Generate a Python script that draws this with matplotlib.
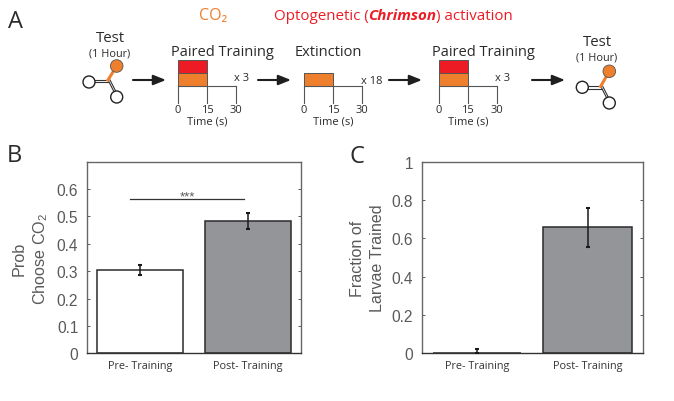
import matplotlib
matplotlib.use("Agg")
import matplotlib.pyplot as plt
from matplotlib.patches import Circle, Rectangle

plt.rcParams["mathtext.fontset"] = "custom"
plt.rcParams["mathtext.rm"] = "Liberation Sans"

# values
groups = ["Pre- Training", "Post- Training"]
prob_choose = [0.304, 0.483]
prob_err = [0.017, 0.030]
frac_trained = [0.0, 0.659]
frac_err_lo = [0.0, 0.105]
frac_err_hi = [0.02, 0.098]
prob_ticks = [0, 0.1, 0.2, 0.3, 0.4, 0.5, 0.6]
prob_ticklabels = ["0", "0.1", "0.2", "0.3", "0.4", "0.5", "0.6"]
frac_ticks = [0, 0.2, 0.4, 0.6, 0.8, 1]
frac_ticklabels = ["0", "0.2", "0.4", "0.6", "0.8", "1"]
bar_colors = ["white", "#939598"]
time_labels = ["0", "15", "30"]

W, H = 674, 402
ORANGE = "#ee7f2d"
RED = "#ed1c24"
DARK = "#2b2b2b"
GREY = "#58595b"
SCH_FONT = ["Open Sans", "DejaVu Sans"]
TICK_FONT = ["Liberation Sans", "DejaVu Sans"]

fig = plt.figure(figsize=(W / 100, H / 100), dpi=100)


def px_axes(x0, y0, x1, y1):
    return fig.add_axes([x0 / W, 1 - y1 / H, (x1 - x0) / W, (y1 - y0) / H])


def bar_panel(box, vals, lo, hi, ticks, ticklabels, ymax, ylabel, spacing):
    ax = px_axes(*box)
    ax.bar([1, 2], vals, width=0.8, color=bar_colors, edgecolor="#2a2a2a", lw=1.1, zorder=2)
    ax.errorbar([1, 2], vals, yerr=[lo, hi], fmt="none", ecolor="#1a1a1a", elinewidth=1.1,
                capsize=1.5, capthick=1.5, zorder=3, clip_on=False)
    ax.set_xlim(0.5, 2.5)
    ax.set_ylim(0, ymax)
    ax.set_xticks([1, 2])
    ax.set_xticklabels(groups, family=SCH_FONT, fontsize=7.8, color="#333333")
    ax.set_yticks(ticks)
    ax.set_yticklabels(ticklabels, family=TICK_FONT, fontsize=11.2, color=GREY)
    ax.tick_params(axis="x", length=0, pad=5)
    ax.tick_params(axis="y", length=2.5, width=0.7, direction="in", right=True, color=GREY, pad=6)
    for s in ax.spines.values():
        s.set_color("#666666")
        s.set_linewidth(1.0)
    ax.spines["bottom"].set_color("#333333")
    ax.set_ylabel(ylabel, family=TICK_FONT, fontsize=11.6, color=GREY, labelpad=5, linespacing=spacing)
    return ax


ax_b = bar_panel((86.7, 162.7, 301.3, 354.3), prob_choose, prob_err, prob_err,
                 prob_ticks, prob_ticklabels, 0.7, "Prob\nChoose CO$_2$", 1.3)
ax_b.plot([0.908, 1.97], [0.563, 0.563], color="#333333", lw=0.9, zorder=3)
ax_b.text(1.44, 0.572, "***", ha="center", va="center", fontsize=9.5, color=GREY, family=TICK_FONT)

ax_c = bar_panel((421.7, 162.7, 643, 354.3), frac_trained, frac_err_lo, frac_err_hi,
                 frac_ticks, frac_ticklabels, 1, "Fraction of\nLarvae Trained", 1.45)

# schematic overlay in pixel coordinates
ov = fig.add_axes([0, 0, 1, 1], zorder=5)
ov.set_xlim(0, W)
ov.set_ylim(H, 0)
ov.axis("off")
ov.patch.set_alpha(0)


def txt(x, y, s, size=10, color=DARK, ha="center", **kw):
    return ov.text(x, y, s, fontsize=size, color=color, ha=ha, va="center", family=SCH_FONT, **kw)


def protocol(x0, red, label_x, label, times, times_x, times_y):
    step = 29.2
    y = 87.3
    ov.add_patch(Rectangle((x0, 74), step, y - 74, fc=ORANGE, ec="#555555", lw=0.7))
    if red:
        ov.add_patch(Rectangle((x0, 61.3), step, 12.7, fc=RED, ec="#555555", lw=0.7))
    ov.plot([x0, x0 + 2 * step], [y, y], color="#555555", lw=0.8)
    for i in range(3):
        ov.plot([x0 + i * step] * 2, [y, 103.5], color="#555555", lw=0.8)
        txt(x0 + i * step, 110.5, time_labels[i], size=8)
    txt(x0 + step, 121.5, "Time (s)", size=8)
    txt(label_x, 53, label, size=10.5)
    txt(times_x, times_y, times, size=8)


def larva(jx, jy, orange_xy, left_xy, low_xy):
    r = 6
    ov.plot([jx, left_xy[0]], [jy, jy], color="#333333", lw=0.8, zorder=2)
    ov.plot([jx, left_xy[0]], [jy + 2.2, jy + 2.2], color="#333333", lw=0.8, zorder=2)
    ov.plot([jx, low_xy[0]], [jy, low_xy[1]], color="#333333", lw=0.8, zorder=2)
    ov.plot([jx + 2, low_xy[0] + 2], [jy, low_xy[1]], color="#333333", lw=0.8, zorder=2)
    ov.plot([jx, orange_xy[0]], [jy, orange_xy[1]], color=ORANGE, lw=2.2, zorder=2)
    ov.add_patch(Circle(orange_xy, r + 0.3, fc=ORANGE, ec="#555555", lw=0.6, zorder=3))
    ov.add_patch(Circle(left_xy, r, fc="white", ec="#222222", lw=1, zorder=3))
    ov.add_patch(Circle(low_xy, r, fc="white", ec="#222222", lw=1, zorder=3))


def arrow(x0, x1, y=81):
    ov.annotate("", xy=(x1, y), xytext=(x0, y),
                arrowprops=dict(arrowstyle="-|>,head_length=0.75,head_width=0.3",
                                color="#1f1f1f", lw=1.5, shrinkA=0, shrinkB=0))


txt(15, 22, "A", size=17)
txt(14, 156, "B", size=17)
txt(357, 157, "C", size=17)

txt(213, 16.5, "CO₂", size=11.5, color=ORANGE)

# the activation title has one bold italic word, so place its pieces one after another
cur = 273.5
r = fig.canvas.get_renderer()
for s, kw in [("Optogenetic (", {}), ("Chrimson", {"weight": "bold", "style": "italic"}),
              (") activation", {})]:
    t = txt(cur, 16.5, s, size=10.9, color=RED, ha="left", **kw)
    cur += t.get_window_extent(r).width

txt(110, 38, "Test", size=10.8)
txt(110, 54, "(1 Hour)", size=7.8)
txt(597, 42, "Test", size=10.8)
txt(597, 58, "(1 Hour)", size=7.8)

larva(108, 81, (116.7, 67), (89, 83), (116.7, 98))
larva(600.7, 87.3, (609.3, 72.3), (582.3, 88.3), (609.3, 104))

protocol(178, True, 222.5, "Paired Training", "x 3", 242, 78.5)
protocol(304, False, 328.5, "Extinction", "x 18", 372, 81)
protocol(438.7, True, 483, "Paired Training", "x 3", 503, 78.5)

arrow(133, 166)
arrow(258, 291)
arrow(389, 422)
arrow(532, 565)

fig.savefig("out.png", dpi=100)
